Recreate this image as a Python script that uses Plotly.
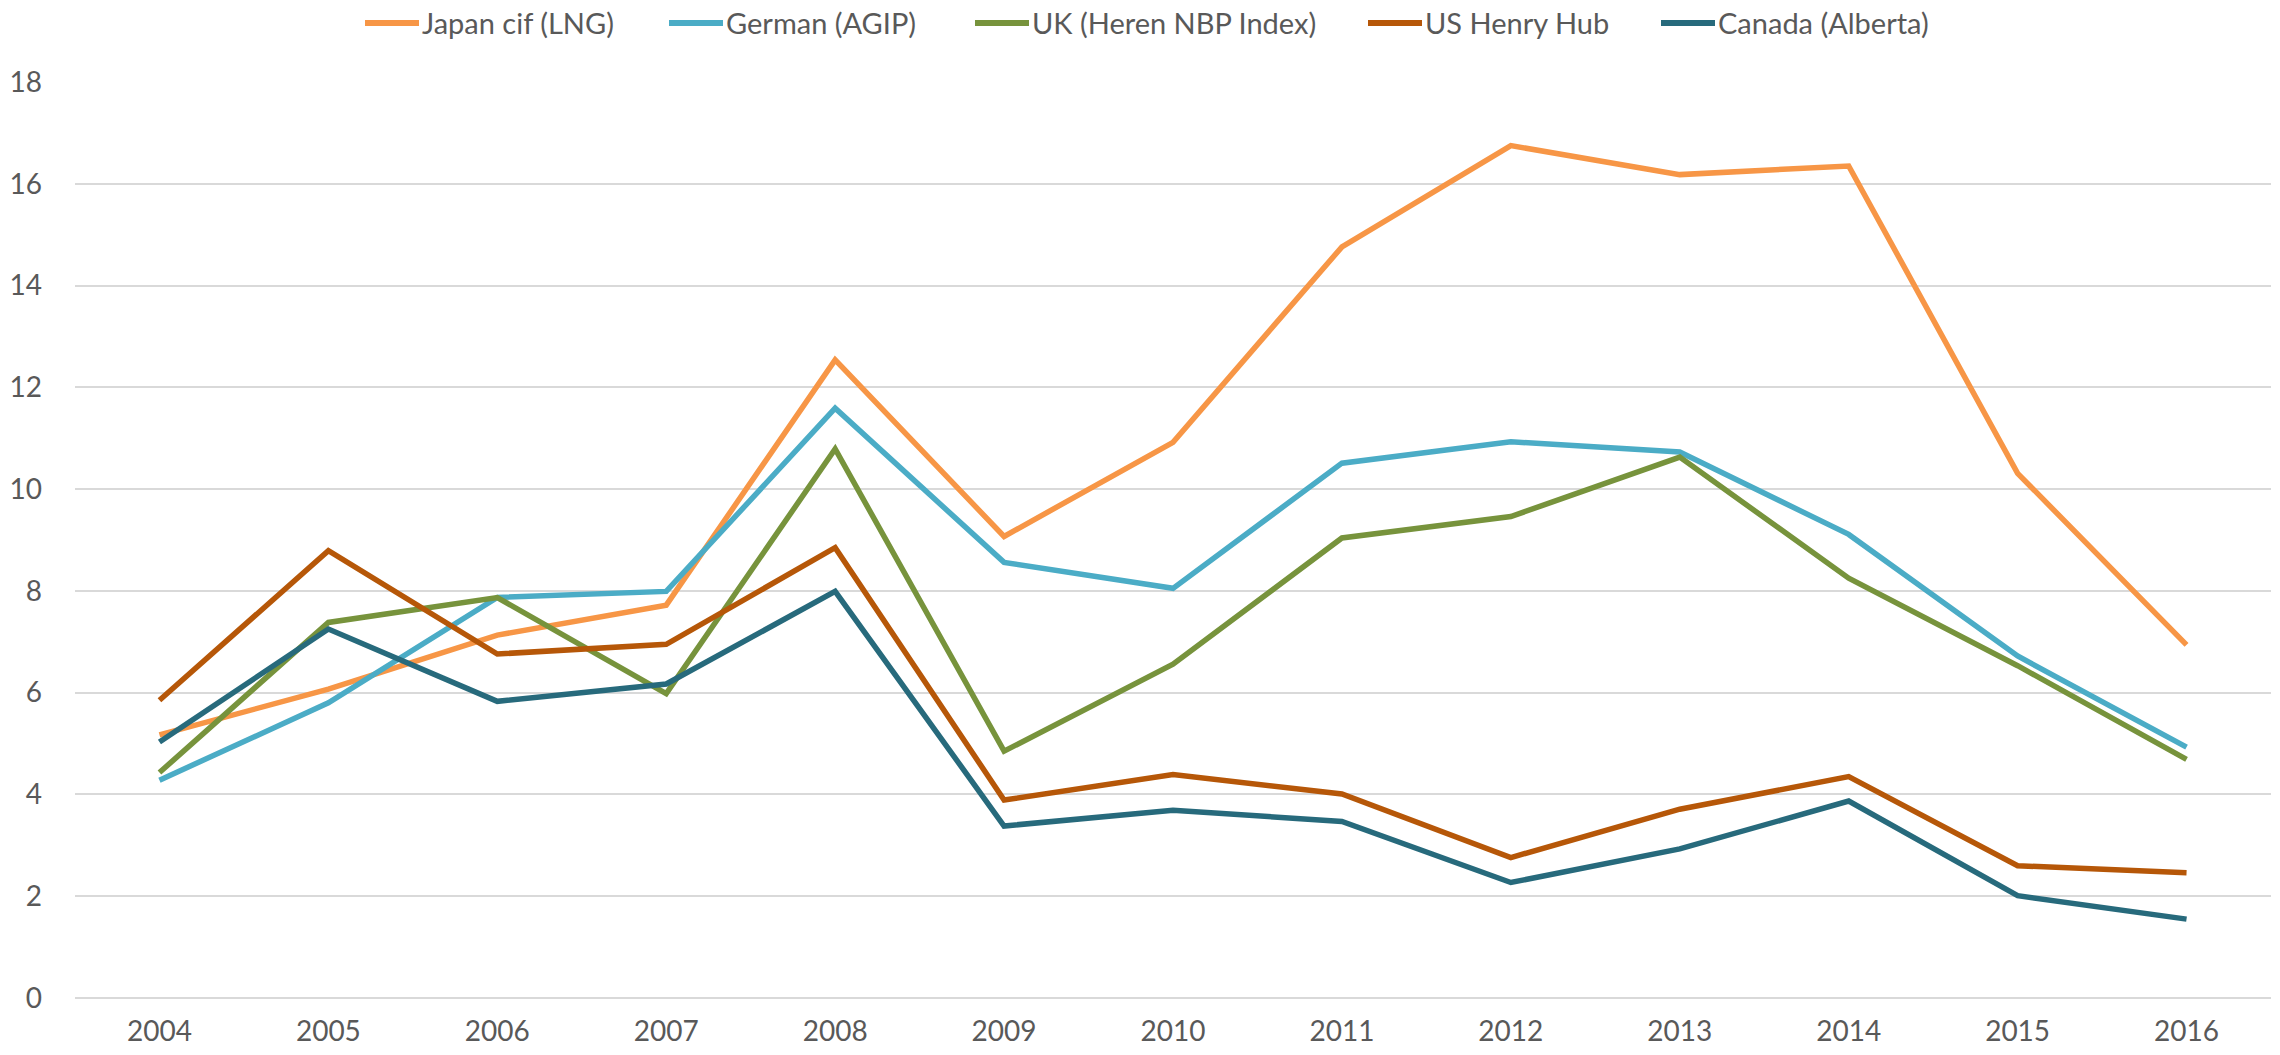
import plotly.graph_objects as go

years = ["2004", "2005", "2006", "2007", "2008", "2009", "2010",
         "2011", "2012", "2013", "2014", "2015", "2016"]

japan_lng = [5.17, 6.07, 7.13, 7.72, 12.54, 9.07, 10.92, 14.76, 16.75, 16.18, 16.35, 10.31, 6.94]
german_agip = [4.28, 5.80, 7.87, 7.99, 11.59, 8.56, 8.05, 10.51, 10.93, 10.73, 9.11, 6.72, 4.93]
uk_nbp = [4.43, 7.38, 7.87, 5.98, 10.79, 4.85, 6.56, 9.04, 9.46, 10.63, 8.25, 6.53, 4.69]
us_henry_hub = [5.85, 8.79, 6.76, 6.95, 8.85, 3.89, 4.39, 4.01, 2.76, 3.71, 4.35, 2.60, 2.46]
canada_alberta = [5.03, 7.25, 5.83, 6.17, 7.99, 3.38, 3.69, 3.47, 2.27, 2.93, 3.87, 2.01, 1.55]

series_names = ["Japan cif (LNG)", "German (AGIP)", "UK (Heren NBP Index)",
                "US Henry Hub", "Canada (Alberta)"]
series_values = [japan_lng, german_agip, uk_nbp, us_henry_hub, canada_alberta]
series_colors = ["#F79646", "#4BACC6", "#77933C", "#B65708", "#276A7C"]

y_ticks = [0, 2, 4, 6, 8, 10, 12, 14, 16, 18]

# page geometry (pixels); body margin is removed by the post script
W, H = 2280, 1055
ML, MR, MT, MB = 75, 9, 82, 57
PW, PH = W - ML - MR, H - MT - MB

fig = go.Figure()
for name, vals, color in zip(series_names, series_values, series_colors):
    fig.add_trace(go.Scatter(
        x=years, y=vals, name=name, mode="lines",
        line=dict(color=color, width=5.5),
        showlegend=False,
    ))

# legend drawn as swatch lines + text, positioned like the reference
legend_x_px = [365, 669, 975, 1368, 1661]   # swatch start positions (page px)
legend_y_px = 23
swatch_len = 54
ly = (MT + PH - legend_y_px) / PH
for x0, name, color in zip(legend_x_px, series_names, series_colors):
    fx0 = (x0 - ML) / PW
    fx1 = (x0 + swatch_len - ML) / PW
    fig.add_shape(type="line", xref="paper", yref="paper",
                  x0=fx0, x1=fx1, y0=ly, y1=ly,
                  line=dict(color=color, width=6))
    fig.add_annotation(text=name, xref="paper", yref="paper",
                       x=fx1, y=ly, xanchor="left", yanchor="middle",
                       showarrow=False, xshift=1,
                       font=dict(size=29, color="#595959"))

font_family = "Lato, 'Open Sans', sans-serif"
fig.update_layout(
    width=W, height=H,
    margin=dict(l=ML, r=MR, t=MT, b=MB, autoexpand=False),
    paper_bgcolor="white", plot_bgcolor="white",
    font=dict(family=font_family, size=28, color="#595959"),
    showlegend=False,
    xaxis=dict(
        type="category", range=[-0.5, 12.5],
        showgrid=False, zeroline=False, showline=False,
        ticks="", ticklabelstandoff=14,
        tickfont=dict(size=28, color="#595959"),
    ),
    yaxis=dict(
        range=[0, 18], tickvals=y_ticks,
        showgrid=True, gridcolor="#D9D9D9", gridwidth=1.5,
        zeroline=True, zerolinecolor="#D9D9D9", zerolinewidth=1.5,
        showline=False, ticks="", ticklabelstandoff=32,
        tickfont=dict(size=28, color="#595959"),
    ),
)

fig.write_html(
    "out.html",
    config={"displayModeBar": False},
    post_script="document.body.style.margin='0';document.body.style.overflow='hidden';",
)
